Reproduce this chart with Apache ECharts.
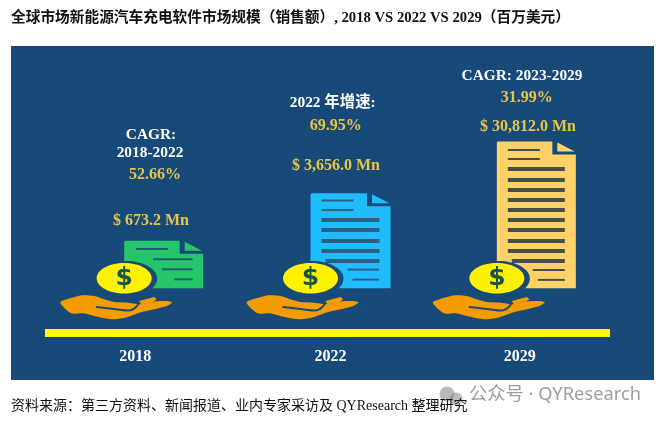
<!DOCTYPE html>
<html>
<head>
<meta charset="utf-8">
<style>html,body{margin:0;padding:0;background:#fff}#chart{width:663px;height:422px}</style>
<script src="https://cdn.jsdelivr.net/npm/echarts@6/dist/echarts.min.js"></script>
</head>
<body>
<div id="chart"></div>
<script>
// 数据
var years = ['2018', '2022', '2029'];
var salesLabels = ['$ 673.2 Mn', '$ 3,656.0 Mn', '$ 30,812.0 Mn'];
var growthLabels = ['52.66%', '69.95%', '31.99%'];
var growthTitles = [['CAGR:', '2018-2022'], ['2022 年增速:'], ['CAGR: 2023-2029']];
var docHeights = [47.6, 95, 146.7];   // 文件图标高度（像素单位）
var docColors = ['#25c56a', '#1fbcff', '#ffd166'];
var docLineColors = ['#1b5f70', '#2f5f80', '#454f4c'];

// 版式
var PANEL = '#174a79', GOLD = '#e7c54b', SERIF = '"Liberation Serif","Noto Sans CJK SC",serif';
var iconOffset = [-15, -17, -19];
var labelOffset = [-4, 3, 4];
var docWidths = [79, 80, 79];
var docBase = 44.4;
// 每个文件图标里的横线: [左, 右, 距顶, 线宽]
var docLines = [
  [[11.7, 44, 8.3, 2], [29, 68.4, 18.6, 2], [38, 68.4, 28.6, 2], [50, 68.4, 38.6, 2]],
  [[11, 43, 7.3, 2], [11, 43, 16.7, 2], [11, 69, 26.7, 4], [11, 69, 36.7, 4], [11, 69, 47.7, 4], [11, 69, 57.7, 4],
   [15, 69, 67.7, 4], [37, 68.5, 76.3, 2], [42, 68.5, 86.3, 2]],
  [[11, 43, 8.3, 2], [11, 43, 17.3, 2], [11, 68, 27.3, 4], [11, 68, 38.3, 4], [11, 68, 48.3, 4], [11, 68, 58.3, 4],
   [11, 68, 68.3, 4], [11, 68, 78.3, 4], [11, 68, 88.3, 4], [11, 68, 99.3, 4], [11, 68, 109.3, 4],
   [15, 68, 119.3, 4], [36, 68, 128.3, 2], [41, 68, 138.3, 2]]
];
var handPoints = [[0,7.3],[9,3.3],[22,0],[34,.7],[44,4],[54,6.7],[66,7.3],[76,8.7],[80,9],[96,6],[107,5.7],[112,7.3],[106,11],[80,17.3],[65,22.5],[51,24],[36,21.3],[23,18],[11,18]];
var thumbPoints = [[79,5.7],[94,1.7],[96.7,4],[92.7,6.7],[81,9.3]];
var creasePoints = [[36.7,11.7],[56,14],[69,15.3],[74,13.3],[78,9.3]];

function renderIcon(params, api) {
  var i = api.value(0);
  var c = api.coord([i, 0]);
  var top = api.coord([i, docBase + docHeights[i]])[1];
  var bottom = api.coord([i, docBase])[1];
  var left = c[0] + iconOffset[i];
  var w = docWidths[i];
  var foldX = w - 23.5;
  var children = [];
  // 文件
  children.push({type: 'polygon', shape: {points: [[left + 1, top], [left + foldX, top], [left + foldX, top + 13], [left + w, top + 13], [left + w, bottom], [left, bottom], [left, top + 1]]}, style: {fill: docColors[i]}});
  children.push({type: 'polygon', shape: {points: [[left + foldX + 5, top + 1], [left + w - 1, top + 10], [left + foldX + 5, top + 10]]}, style: {fill: docColors[i]}});
  docLines[i].forEach(function (l) {
    children.push({type: 'rect', shape: {x: left + l[0], y: top + l[2] - l[3] / 2, width: l[1] - l[0], height: l[3]}, style: {fill: docLineColors[i]}});
  });
  // 硬币
  children.push({type: 'ellipse', shape: {cx: left + 2, cy: bottom - 9.6, rx: 31, ry: 17.6}, style: {fill: PANEL}});
  children.push({type: 'ellipse', shape: {cx: left, cy: bottom - 10, rx: 27.5, ry: 15.3}, style: {fill: '#fff200'}});
  children.push({type: 'text', style: {x: left, y: bottom - 10, text: '$', fill: '#17564f', font: 'bold 25px "DejaVu Sans"', align: 'center', verticalAlign: 'middle'}});
  // 手
  children.push({type: 'group', x: left - 64, y: bottom + 7, children: [
    {type: 'polygon', shape: {points: handPoints, smooth: 0.25}, style: {fill: '#f59d00'}},
    {type: 'polygon', shape: {points: thumbPoints}, style: {fill: '#f59d00'}},
    {type: 'polyline', shape: {points: creasePoints, smooth: 0.3}, style: {stroke: PANEL, lineWidth: 2, fill: null, lineCap: 'round'}}
  ]});
  return {type: 'group', children: children};
}

function label(text, x, y, color, size) {
  return {type: 'text', x: x, y: y, z: 10, style: {text: text, fill: color, font: 'bold ' + size + 'px ' + SERIF, align: 'center', verticalAlign: 'middle'}};
}

var graphics = [
  {type: 'rect', z: -10, shape: {x: 11, y: 46, width: 643, height: 334}, style: {fill: PANEL}},
  {type: 'text', x: 11, y: 18, style: {text: '全球市场新能源汽车充电软件市场规模（销售额）, 2018 VS 2022 VS 2029（百万美元）', fill: '#111', font: 'bold 14.7px ' + SERIF, verticalAlign: 'middle'}},
  {type: 'text', x: 11, y: 406, z: 5, style: {text: '资料来源：第三方资料、新闻报道、业内专家采访及 QYResearch 整理研究', fill: '#111', font: '14px ' + SERIF, verticalAlign: 'middle'}},
  {type: 'circle', shape: {cx: 447, cy: 394, r: 7.5}, style: {fill: 'rgba(130,130,130,.55)'}},
  {type: 'circle', shape: {cx: 456, cy: 399, r: 6.5}, style: {fill: 'rgba(130,130,130,.55)'}},
  {type: 'text', x: 469, y: 395, z: 6, style: {text: '公众号 · QYResearch', fill: 'rgba(125,125,125,.75)', font: '18.3px "Noto Sans","Noto Sans CJK SC"', verticalAlign: 'middle'}},
  label(growthTitles[0][0], 151, 135, '#fff', 15.4),
  label(growthTitles[0][1], 150, 153.5, '#fff', 15.4),
  label(growthLabels[0], 155, 175, GOLD, 16),
  label(salesLabels[0], 151, 221, GOLD, 16),
  label(growthTitles[1][0], 332.7, 103, '#fff', 15.4),
  label(growthLabels[1], 335.7, 126, GOLD, 16),
  label(salesLabels[1], 336, 166, GOLD, 16),
  label(growthTitles[2][0], 522, 76.5, '#fff', 15.4),
  label(growthLabels[2], 526.7, 97.5, GOLD, 16),
  label(salesLabels[2], 528, 126.5, GOLD, 16)
];

var chart = echarts.init(document.getElementById('chart'));
chart.setOption({
  animation: false,
  backgroundColor: '#fff',
  graphic: graphics,
  grid: {left: 45, right: 53, top: 46, bottom: 89.3},
  xAxis: {
    type: 'category',
    data: years.map(function (y, i) {
      var d = labelOffset[i] * 2;
      return {value: y, textStyle: {padding: d < 0 ? [0, -d, 0, 0] : [0, 0, 0, d]}};
    }),
    axisLine: {lineStyle: {color: '#ffff00', width: 8, cap: 'butt'}},
    axisTick: {show: false},
    axisLabel: {color: '#fff', fontFamily: SERIF, fontWeight: 'bold', fontSize: 16, margin: 16}
  },
  yAxis: {type: 'value', min: 0, max: 286.7, show: false, splitLine: {show: false}},
  series: [{
    type: 'custom',
    renderItem: renderIcon,
    data: years.map(function (y, i) { return [i]; }),
    encode: {x: 0},
    silent: true,
    clip: false
  }]
});
</script>
</body>
</html>
